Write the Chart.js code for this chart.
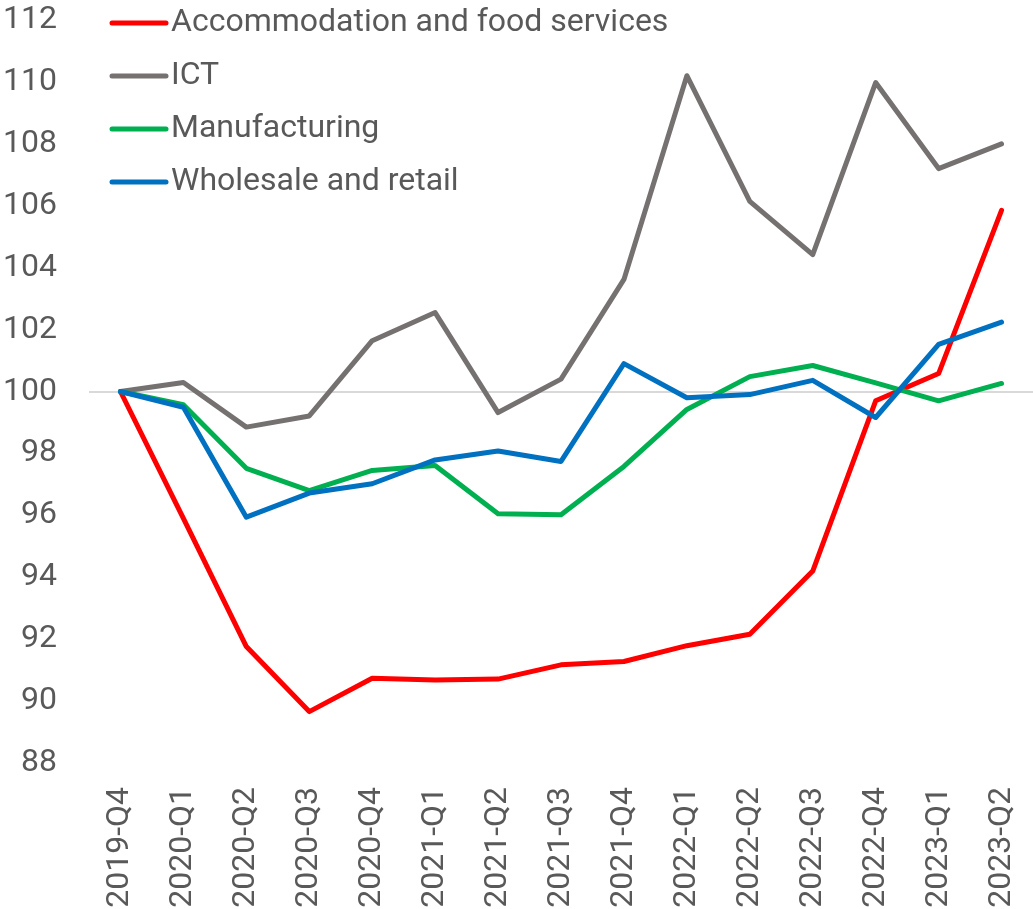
<!DOCTYPE html>
<html>
<head>
<meta charset="utf-8">
<script src="https://cdn.jsdelivr.net/npm/chart.js@4/dist/chart.umd.min.js"></script>
<style>
  html, body { margin: 0; padding: 0; background: #ffffff; }
  #wrap { width: 1033px; height: 909px; }
</style>
</head>
<body>
<div id="wrap"><canvas id="c" width="1033" height="909"></canvas></div>
<script>
// Quarterly index values, 2019-Q4 = 100
const quarters = ['2019-Q4','2020-Q1','2020-Q2','2020-Q3','2020-Q4','2021-Q1','2021-Q2','2021-Q3','2021-Q4','2022-Q1','2022-Q2','2022-Q3','2022-Q4','2023-Q1','2023-Q2'];
const accommodation = [100, 95.9, 91.76, 89.66, 90.74, 90.68, 90.71, 91.17, 91.28, 91.79, 92.16, 94.2, 99.7, 100.58, 105.85];
const ict = [100, 100.29, 98.85, 99.21, 101.64, 102.55, 99.32, 100.4, 103.62, 110.2, 106.14, 104.42, 109.98, 107.2, 108.0];
const manufacturing = [100, 99.57, 97.52, 96.8, 97.45, 97.61, 96.05, 96.02, 97.58, 99.42, 100.48, 100.84, 100.28, 99.7, 100.26];
const wholesale = [100, 99.49, 95.94, 96.72, 97.02, 97.79, 98.08, 97.74, 100.9, 99.8, 99.9, 100.36, 99.16, 101.52, 102.24];
const seriesNames = ['Accommodation and food services', 'ICT', 'Manufacturing', 'Wholesale and retail'];
const seriesColors = ['#FF0000', '#767171', '#00B050', '#0070C0'];
const yTicks = [88, 90, 92, 94, 96, 98, 100, 102, 104, 106, 108, 110, 112];

const FONT = 'Roboto, "Noto Sans", sans-serif';
const TEXT = '#595959';

// Legend drawn as a vertical list in the upper left of the plot
const sideLegend = {
  id: 'sideLegend',
  afterDraw(chart) {
    const ctx = chart.ctx;
    ctx.save();
    ctx.font = '32px ' + FONT;
    ctx.textBaseline = 'middle';
    ctx.textAlign = 'left';
    chart.data.datasets.forEach((ds, i) => {
      const y = 23 + i * 53;
      ctx.strokeStyle = ds.borderColor;
      ctx.lineWidth = 5;
      ctx.lineCap = 'round';
      ctx.beginPath();
      ctx.moveTo(112, y);
      ctx.lineTo(166, y);
      ctx.stroke();
      ctx.fillStyle = TEXT;
      ctx.fillText(ds.label, 171, y);
    });
    ctx.restore();
  }
};

const seriesData = [accommodation, ict, manufacturing, wholesale];
const datasets = seriesData.map((d, i) => ({
  label: seriesNames[i],
  data: d,
  borderColor: seriesColors[i],
  backgroundColor: seriesColors[i],
  borderWidth: 5,
  pointRadius: 0,
  tension: 0,
  borderJoinStyle: 'round',
  borderCapStyle: 'round',
  fill: false,
  order: seriesData.length - i
}));

new Chart(document.getElementById('c'), {
  type: 'line',
  data: { labels: quarters, datasets },
  plugins: [sideLegend],
  options: {
    responsive: false,
    animation: false,
    devicePixelRatio: 1,
    layout: { padding: { top: 20, right: 0, bottom: 0, left: 0 } },
    plugins: { legend: { display: false }, tooltip: { enabled: false } },
    scales: {
      x: {
        offset: true,
        grid: { display: false, drawTicks: false },
        border: { display: false },
        ticks: {
          autoSkip: false,
          minRotation: 90,
          maxRotation: 90,
          padding: 24,
          color: TEXT,
          font: { family: FONT, size: 32 }
        },
        afterFit(scale) {
          scale.height = 146;
          scale.paddingLeft = 0;
          scale.paddingRight = 0;
          scale.paddingTop = 0;
          scale.paddingBottom = 0;
        }
      },
      y: {
        min: 88,
        max: 112,
        afterBuildTicks(scale) { scale.ticks = yTicks.map(v => ({ value: v })); },
        grid: {
          drawTicks: false,
          color: ctx => (ctx.tick && ctx.tick.value === 100) ? '#D9D9D9' : 'rgba(0,0,0,0)',
          lineWidth: 2
        },
        border: { display: false },
        ticks: {
          padding: 32,
          color: TEXT,
          font: { family: FONT, size: 32 }
        },
        afterFit(scale) {
          scale.width = 89;
          scale.paddingLeft = 0;
          scale.paddingRight = 0;
          scale.paddingTop = 0;
          scale.paddingBottom = 0;
        }
      }
    }
  }
});
</script>
</body>
</html>
